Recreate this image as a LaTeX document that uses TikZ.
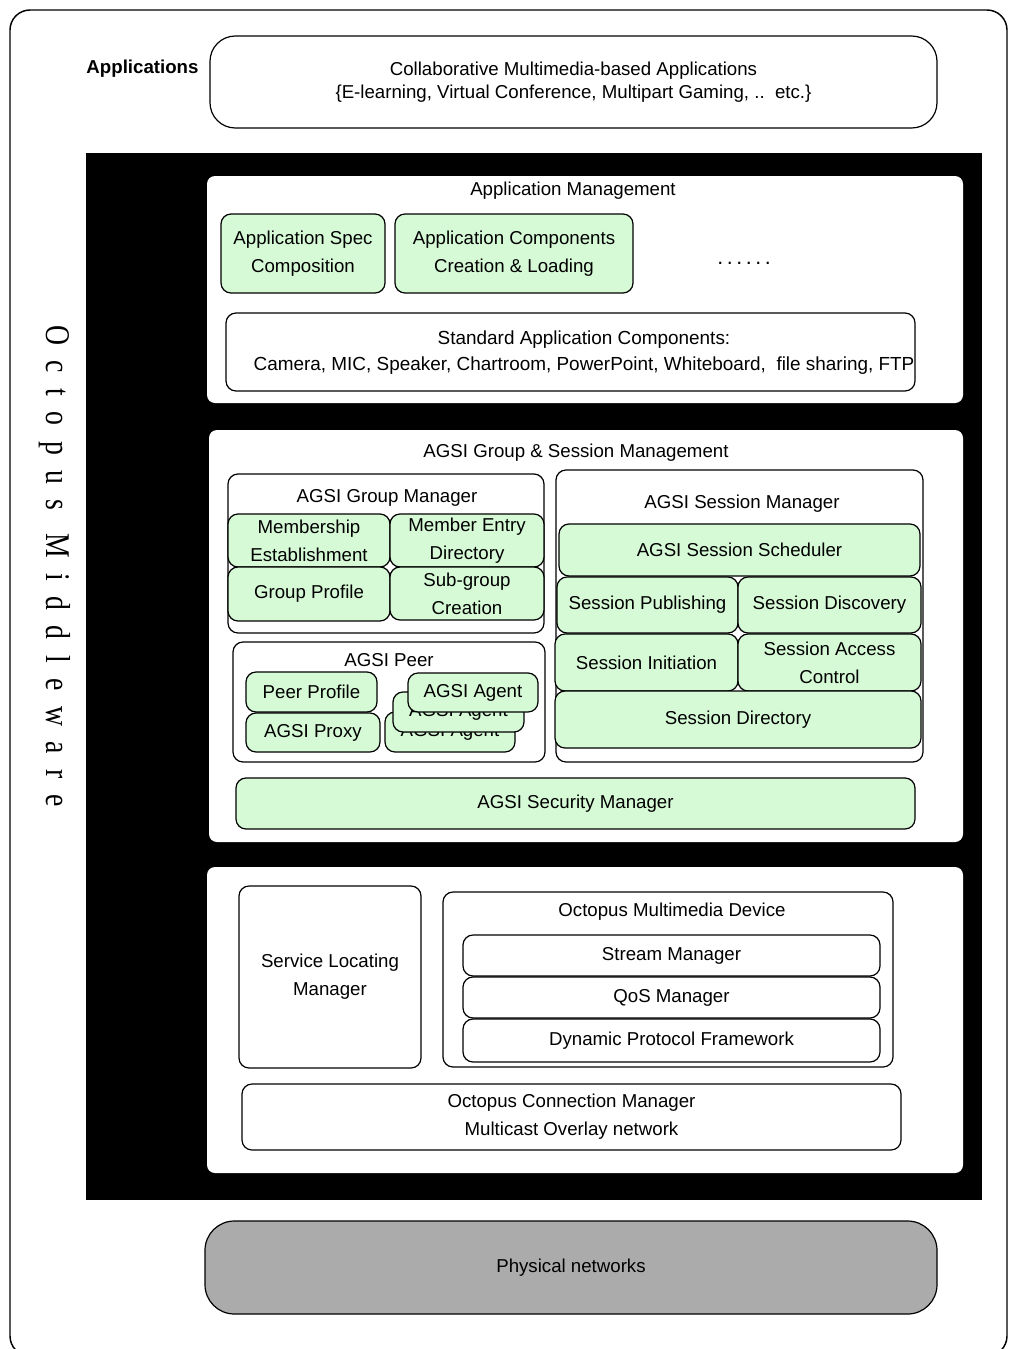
\documentclass[tikz,border=0pt]{standalone}
\usepackage{fontspec}
\setmainfont{Liberation Sans}
\newfontfamily\octfont[LetterSpace=56]{Liberation Serif}
\definecolor{grn}{RGB}{214,250,214}
\definecolor{phys}{RGB}{171,171,171}
\begin{document}
\begin{tikzpicture}[x=0.75pt,y=-0.75pt,
  every node/.style={font=\fontsize{14}{21}\selectfont, inner sep=0pt, outer sep=0pt},
  wh/.style 2 args={minimum width=#1*0.75pt, minimum height=#2*0.75pt},
  gbox/.style={draw, line width=0.9pt, fill=grn, rounded corners=7.5pt, align=center},
  obox/.style={draw, line width=0.9pt, fill=white, rounded corners=7.5pt, align=center},
  panel/.style={fill=white, rounded corners=6pt},
  lbl/.style={align=center},
]
\useasboundingbox (0,0) rectangle (1008,1349);
\begin{scope}
  \clip (0,0) rectangle (1008,1349);
  \draw[line width=1.1pt, rounded corners=15pt] (10,10) rectangle (1007,1356);
\end{scope}

% Applications
\node[font=\fontsize{14}{17}\bfseries\selectfont] (applbl) at (142.5,69) {Applications};
\node[obox, rounded corners=19pt, wh={727}{92}, font=\fontsize{14}{17}\selectfont] (apps) at (573.5,82)
  {Collaborative Multimedia-based Applications\\{\{}E-learning, Virtual Conference, Multipart Gaming, ..\ \ etc.\}};

% Black middleware region
\fill (86,153) rectangle (982,1200);
\node[rotate=-90] (oct) at (55,566) {\scalebox{0.8}[1]{\fontsize{26}{30}\octfont Octopus Middleware}};

% Application Management
\node[panel, wh={756}{227}] (appmgmt) at (585,289.5) {};
\node (appmgmtt) at (573,191) {Application Management};
\node[gbox, wh={164}{79}] (spec) at (303,253.5) {Application Spec\\Composition};
\node[gbox, wh={238}{79}] (comp) at (514,253.5) {Application Components\\Creation \& Loading};
\node (dots) at (744,263) {\fontsize{16}{16}\selectfont .\,.\,.\,.\,.\,.};
\node[obox, wh={689}{78}] (std) at (570.5,352) {};
\node[lbl, font=\fontsize{14.2}{19}\selectfont] (stdt) at (584,352.5) {Standard Application Components:\\Camera, MIC, Speaker, Chartroom, PowerPoint, Whiteboard,\ \ file sharing, FTP};

% AGSI Group & Session Management
\node[panel, wh={754}{412}] (agsi) at (586,636) {};
\node (agsit) at (576,453) {AGSI Group \& Session Management};

\node[obox, wh={316}{159}] (gm) at (386,553.5) {};
\node (gmt) at (387,498) {AGSI Group Manager};
\node[gbox, wh={162}{53}] (memb) at (309,540.5) {Membership\\Establishment};
\node[gbox, wh={154}{53}] (mentry) at (467,540.5) {Member Entry\\Directory};
\node[gbox, wh={162}{54}] (gprof) at (309,594) {Group Profile};
\node[gbox, wh={154}{53}] (subg) at (467,593.5) {Sub-group\\Creation};

\node[obox, wh={312}{120}] (peer) at (389,702) {};
\node (peert) at (389,660) {AGSI Peer};
\node[gbox, wh={131}{40}] (pprof) at (311.5,692) {Peer Profile};
\node[gbox, wh={134}{39}] (proxy) at (313,732.5) {AGSI Proxy};
\node[gbox, wh={130}{40}] (agent3) at (450,732) {AGSI Agent};
\node[gbox, wh={131}{40}] (agent2) at (458.5,712) {AGSI Agent};
\node[gbox, wh={130}{39}] (agent1) at (473,692.5) {AGSI Agent};

\node[obox, wh={367}{292}] (sm) at (739.5,616) {};
\node (smt) at (742,504) {AGSI Session Manager};
\node[gbox, wh={361}{52}] (sched) at (739.5,550) {AGSI Session Scheduler};
\node[gbox, wh={181}{56}] (pub) at (647.5,605) {Session Publishing};
\node[gbox, wh={183}{56}] (disc) at (829.5,605) {Session Discovery};
\node[gbox, wh={183}{57}] (init) at (646.5,662.5) {Session Initiation};
\node[gbox, wh={183}{57}] (acc) at (829.5,662.5) {Session Access\\Control};
\node[gbox, wh={366}{57}] (sdir) at (738,719.5) {Session Directory};

\node[gbox, wh={679}{51}] (sec) at (575.5,803.5) {AGSI Security Manager};

% Bottom panel
\node[panel, wh={756}{306}] (bottom) at (585,1020) {};
\node[obox, wh={182}{182}] (slm) at (330,977) {Service Locating\\Manager};
\node[obox, wh={450}{175}] (omd) at (668,979.5) {};
\node (omdt) at (672,912) {Octopus Multimedia Device};
\node[obox, wh={417}{41}] (stream) at (671.5,955.5) {Stream Manager};
\node[obox, wh={417}{41}] (qos) at (671.5,997.5) {QoS Manager};
\node[obox, wh={417}{43}] (dpf) at (671.5,1040.5) {Dynamic Protocol Framework};
\node[obox, wh={659}{66}] (ocm) at (571.5,1117) {Octopus Connection Manager\\Multicast Overlay network};

% Physical networks
\node[draw, line width=0.9pt, fill=phys, rounded corners=22pt, wh={732}{93}] (phys) at (571,1267.5) {Physical networks};
\end{tikzpicture}
\end{document}
